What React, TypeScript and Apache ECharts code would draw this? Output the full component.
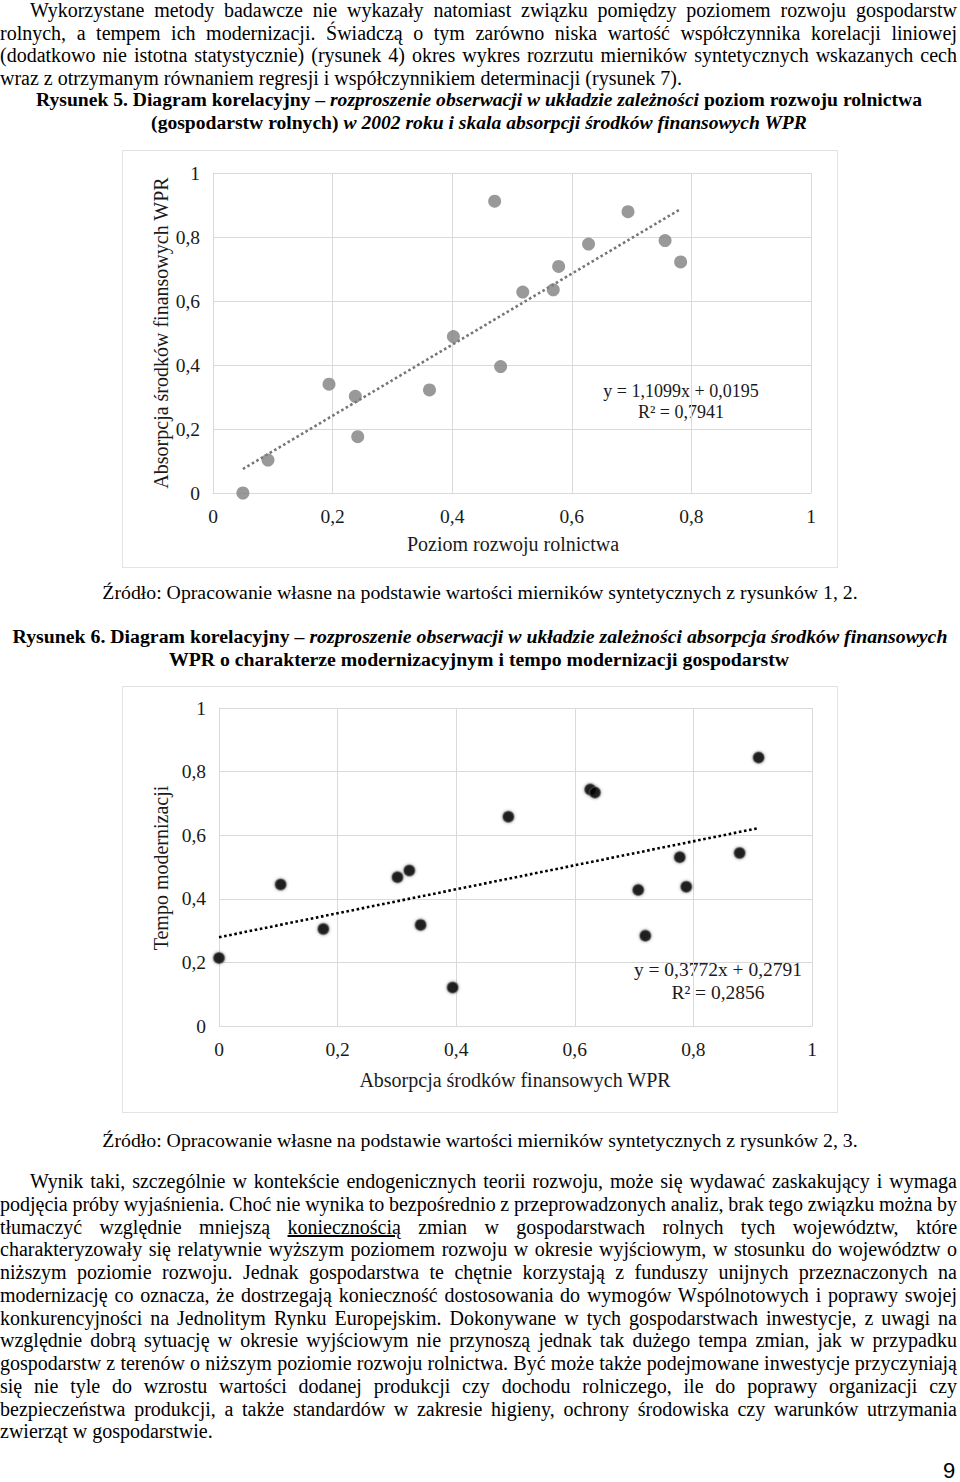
import React, { useEffect, useRef } from "react";
import * as echarts from "echarts";

// ---------- DATA ----------
// Rysunek 5: x = poziom rozwoju rolnictwa, y = absorpcja środków WPR
const fig5X = [0.05, 0.092, 0.194, 0.238, 0.242, 0.362, 0.402, 0.471, 0.481, 0.518, 0.569, 0.578, 0.628, 0.694, 0.756, 0.782];
const fig5Y = [0.0, 0.103, 0.34, 0.302, 0.176, 0.322, 0.489, 0.912, 0.395, 0.628, 0.635, 0.708, 0.778, 0.879, 0.789, 0.722];
const fig5Trend = [1.1099, 0.0195]; // slope, intercept
const fig5Eq = ["y = 1,1099x + 0,0195", "R² = 0,7941"];

// Rysunek 6: x = absorpcja środków WPR, y = tempo modernizacji
const fig6X = [0.0, 0.104, 0.176, 0.301, 0.321, 0.34, 0.394, 0.488, 0.626, 0.634, 0.707, 0.719, 0.777, 0.788, 0.878, 0.91];
const fig6Y = [0.214, 0.445, 0.305, 0.468, 0.489, 0.318, 0.121, 0.658, 0.744, 0.734, 0.428, 0.284, 0.531, 0.438, 0.544, 0.844];
const fig6Trend = [0.3772, 0.2791];
const fig6Eq = ["y = 0,3772x + 0,2791", "R² = 0,2856"];

const axisMin = 0;
const axisMax = 1;
const axisStep = 0.2;

// ---------- TEXT ----------
const topPara = [
  "Wykorzystane metody badawcze nie wykazały natomiast związku pomiędzy poziomem rozwoju gospodarstw",
  "rolnych, a tempem ich modernizacji. Świadczą o tym zarówno niska wartość współczynnika korelacji liniowej",
  "(dodatkowo nie istotna statystycznie) (rysunek 4) okres wykres rozrzutu mierników syntetycznych wskazanych cech",
  "wraz z otrzymanym równaniem regresji i współczynnikiem determinacji (rysunek 7).",
];

const bottomPara = [
  "Wynik taki, szczególnie w kontekście endogenicznych teorii rozwoju, może się wydawać zaskakujący i wymaga",
  "podjęcia próby wyjaśnienia. Choć nie wynika to bezpośrednio z przeprowadzonych analiz, brak tego związku można by",
  "__LINE3__",
  "charakteryzowały się relatywnie wyższym poziomem rozwoju w okresie wyjściowym, w stosunku do województw o",
  "niższym poziomie rozwoju. Jednak gospodarstwa te chętnie korzystają z funduszy unijnych przeznaczonych na",
  "modernizację co oznacza, że dostrzegają konieczność dostosowania do wymogów Wspólnotowych i poprawy swojej",
  "konkurencyjności na Jednolitym Rynku Europejskim. Dokonywane w tych gospodarstwach inwestycje, z uwagi na",
  "względnie dobrą sytuację w okresie wyjściowym nie przynoszą jednak tak dużego tempa zmian, jak w przypadku",
  "gospodarstw z terenów o niższym poziomie rozwoju rolnictwa. Być może także podejmowane inwestycje przyczyniają",
  "się nie tyle do wzrostu wartości dodanej produkcji czy dochodu rolniczego, ile do poprawy organizacji czy",
  "bezpieczeństwa produkcji, a także standardów w zakresie higieny, ochrony środowiska czy warunków utrzymania",
  "zwierząt w gospodarstwie.",
];

const FONT = "'Liberation Serif', 'Times New Roman', serif";

const fmt = (v: number) => String(Number(v.toFixed(1))).replace(".", ",");

function buildOption(
  xs: number[],
  ys: number[],
  trend: number[],
  grid: any,
  markerStyle: any,
  trendStyle: any,
  texts: any[]
) {
  const pts = xs.map((x, i) => [x, ys[i]]);
  const xmin = Math.min(...xs);
  const xmax = Math.max(...xs);
  const trendPts = [xmin, xmax].map((x) => [x, trend[0] * x + trend[1]]);
  const axisCommon = {
    type: "value",
    min: axisMin,
    max: axisMax,
    interval: axisStep,
    axisLine: { show: true, onZero: false, lineStyle: { color: "#d9d9d9", width: 1 } },
    axisTick: { show: false },
    splitLine: { show: true, lineStyle: { color: "#d9d9d9", width: 1 } },
  };
  const lbl = { fontFamily: FONT, fontSize: 19.5, color: "#1a1a1a", margin: 13, formatter: fmt };
  return {
    animation: false,
    grid,
    xAxis: { ...axisCommon, axisLabel: lbl },
    yAxis: { ...axisCommon, axisLabel: lbl },
    series: [
      {
        type: "line",
        data: trendPts,
        symbol: "none",
        silent: true,
        lineStyle: trendStyle,
        z: 1,
      },
      {
        type: "scatter",
        data: pts,
        symbolSize: markerStyle.size,
        itemStyle: markerStyle.item,
        z: 3,
      },
    ],
    graphic: texts.map((t) => ({
      type: "text",
      x: t.x,
      y: t.y,
      rotation: t.rotation || 0,
      style: {
        text: t.text,
        fontFamily: FONT,
        fontSize: t.size || 20,
        fill: "#1a1a1a",
        align: "center",
        verticalAlign: "middle",
        textAlign: "center",
        textVerticalAlign: "middle",
      },
    })),
  };
}

function Chart({ option, style }: { option: any; style: React.CSSProperties }) {
  const ref = useRef<HTMLDivElement>(null);
  useEffect(() => {
    if (!ref.current) return;
    const c = echarts.init(ref.current, undefined, { renderer: "svg" });
    c.setOption(option);
    return () => c.dispose();
  }, [option]);
  return <div ref={ref} style={style} />;
}

function Line({
  y,
  left = 0,
  width = 957,
  justify = false,
  center = false,
  size = 20,
  children,
  style,
}: {
  y: number;
  left?: number;
  width?: number;
  justify?: boolean;
  center?: boolean;
  size?: number;
  children: React.ReactNode;
  style?: React.CSSProperties;
}) {
  return (
    <div
      style={{
        position: "absolute",
        left,
        top: y - 11,
        width,
        height: 22,
        lineHeight: "22px",
        fontSize: size,
        whiteSpace: "nowrap",
        wordSpacing: justify ? "-4px" : "normal",
        textAlign: center ? "center" : justify ? "justify" : "left",
        textAlignLast: center ? "center" : justify ? "justify" : "left",
        ...style,
      }}
    >
      {children}
    </div>
  );
}

const opt5 = buildOption(
  fig5X,
  fig5Y,
  fig5Trend,
  { left: 90, right: 26, top: 22, bottom: 74 },
  { size: 13, item: { color: "#7f7f7f" } },
  { color: "#767676", width: 2.6, type: [2.6, 2.6] },
  [
    { text: "Absorpcja środków finansowych WPR", x: 38, y: 182, rotation: Math.PI / 2 },
    { text: "Poziom rozwoju rolnictwa", x: 390, y: 393 },
    { text: fig5Eq[0], x: 558, y: 240, size: 18 },
    { text: fig5Eq[1], x: 558, y: 261, size: 18 },
  ]
);

const opt6 = buildOption(
  fig6X,
  fig6Y,
  fig6Trend,
  { left: 96, right: 25, top: 21, bottom: 86 },
  {
    size: 11,
    item: { color: "#000", borderColor: "rgba(90,90,90,0.6)", borderWidth: 1.5, shadowBlur: 3, shadowColor: "rgba(0,0,0,0.5)" },
  },
  { color: "#000", width: 2.6, type: [2.6, 2.6] },
  [
    { text: "Tempo modernizacji", x: 38, y: 181, rotation: Math.PI / 2 },
    { text: "Absorpcja środków finansowych WPR", x: 392, y: 393 },
    { text: fig6Eq[0], x: 595, y: 282, size: 19.5 },
    { text: fig6Eq[1], x: 595, y: 305, size: 19.5 },
  ]
);

export default function App() {
  const bottomYs = bottomPara.map((_, i) => 1181 + i * 22.75);
  return (
    <div
      style={{
        position: "absolute",
        left: 0,
        top: 0,
        width: 960,
        height: 1482,
        background: "#fff",
        fontFamily: FONT,
        fontSize: 20,
        color: "#000",
        overflow: "hidden",
      }}
    >
      {topPara.map((t, i) => (
        <Line
          key={"t" + i}
          y={10 + i * 22.7}
          left={i === 0 ? 30 : 0}
          width={i === 0 ? 927 : 957}
          justify={i < topPara.length - 1}
        >
          {t}
        </Line>
      ))}

      <Line y={100} left={0} width={958} center size={19.6} style={{ fontWeight: "bold" }}>
        Rysunek 5. Diagram korelacyjny – <i>rozproszenie obserwacji w układzie zależności</i> poziom rozwoju rolnictwa
      </Line>
      <Line y={123} left={0} width={958} center size={19.6} style={{ fontWeight: "bold" }}>
        (gospodarstw rolnych) <i>w 2002 roku i skala absorpcji środków finansowych WPR</i>
      </Line>

      <Chart
        option={opt5}
        style={{
          position: "absolute",
          left: 122,
          top: 150,
          width: 716,
          height: 418,
          boxSizing: "border-box",
          border: "1px solid #e3e3e3",
        }}
      />

      <Line y={592} left={0} width={960} center size={19.8}>
        Źródło: Opracowanie własne na podstawie wartości mierników syntetycznych z rysunków 1, 2.
      </Line>

      <Line y={636} left={0} width={960} center size={19.8} style={{ fontWeight: "bold" }}>
        Rysunek 6. Diagram korelacyjny – <i>rozproszenie obserwacji w układzie zależności absorpcja środków finansowych</i>
      </Line>
      <Line y={659} left={0} width={958} center size={19.8} style={{ fontWeight: "bold" }}>
        WPR o charakterze modernizacyjnym i tempo modernizacji gospodarstw
      </Line>

      <Chart
        option={opt6}
        style={{
          position: "absolute",
          left: 122,
          top: 686,
          width: 716,
          height: 427,
          boxSizing: "border-box",
          border: "1px solid #e3e3e3",
        }}
      />

      <Line y={1140} left={0} width={960} center size={19.8}>
        Źródło: Opracowanie własne na podstawie wartości mierników syntetycznych z rysunków 2, 3.
      </Line>

      {bottomPara.map((t, i) => (
        <Line
          key={"b" + i}
          y={bottomYs[i]}
          left={i === 0 ? 30 : 0}
          width={i === 0 ? 927 : 957}
          justify={i < bottomPara.length - 1}
        >
          {t === "__LINE3__" ? (
            <>
              tłumaczyć względnie mniejszą <u>koniecznością</u> zmian w gospodarstwach rolnych tych województw, które
            </>
          ) : (
            t
          )}
        </Line>
      ))}

      <div
        style={{
          position: "absolute",
          left: 943,
          top: 1459,
          fontFamily: "'Liberation Sans', Arial, sans-serif",
          fontSize: 22,
          lineHeight: "24px",
        }}
      >
        9
      </div>
    </div>
  );
}
